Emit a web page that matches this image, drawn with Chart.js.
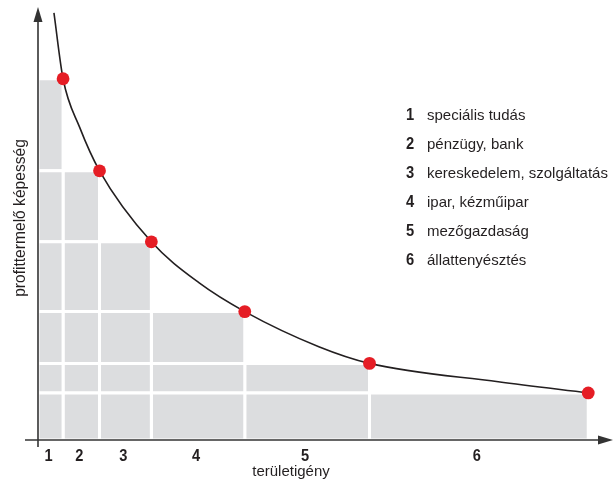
<!DOCTYPE html>
<html>
<head>
<meta charset="utf-8">
<script src="https://cdn.jsdelivr.net/npm/chart.js@4/dist/chart.umd.min.js"></script>
<style>
  html, body { margin: 0; padding: 0; background: #fff; }
  #wrap { position: relative; width: 614px; height: 483px; }
</style>
</head>
<body>
<div id="wrap"><canvas id="c"></canvas></div>
<script>
// Sectors, ordered by profit-making ability
const columnLabels = ['1', '2', '3', '4', '5', '6'];
const sectorNames = ['speciális tudás', 'pénzügy, bank', 'kereskedelem, szolgáltatás',
                     'ipar, kézműipar', 'mezőgazdaság', 'állattenyésztés'];
// Cumulative land requirement at the right edge of each sector's column
const landEdges = [4.4, 10.8, 19.9, 36.3, 58.2, 96.6];
// Profit-making ability of each sector
const profitLevels = [84.4, 62.9, 46.3, 30.0, 17.9, 11.0];
// Points along the smooth curve
const curveX = [2.8, 4.4, 7.3, 10.8, 19.9, 28.3, 36.3, 49.3, 58.2, 80.8, 96.6];
const curveY = [99.8, 84.4, 73.1, 62.9, 46.3, 36.7, 30.0, 21.8, 17.9, 13.6, 11.0];

const xTitle = 'területigény';
const yTitle = 'profittermelő képesség';

const INK = '#231f20';
const CELL = '#dcdddf';
const DOT = '#e51d25';
const FONT = '"Liberation Sans", Arial, sans-serif';

// Each column is split into bands at the levels of the sectors to its right
const cellSets = [];
for (let i = 0; i < landEdges.length; i++) {
  const x0 = i === 0 ? 0 : landEdges[i - 1];
  const x1 = landEdges[i];
  for (let j = profitLevels.length - 1; j >= i; j--) {
    const lo = j === profitLevels.length - 1 ? 0 : profitLevels[j + 1];
    const hi = profitLevels[j];
    cellSets.push({
      data: [{x: x0, y: lo}, {x: x0, y: hi}, {x: x1, y: hi}, {x: x1, y: lo}, {x: x0, y: lo}],
      fill: 'shape',
      backgroundColor: CELL,
      borderColor: '#ffffff',
      borderWidth: 3,
      pointRadius: 0,
      tension: 0,
      order: 3
    });
  }
}

const curveSet = {
  data: curveX.map((x, k) => ({x, y: curveY[k]})),
  borderColor: INK,
  borderWidth: 1.6,
  pointRadius: 0,
  fill: false,
  cubicInterpolationMode: 'monotone',
  order: 2
};

const dotSet = {
  data: landEdges.map((x, k) => ({x, y: profitLevels[k]})),
  showLine: false,
  pointRadius: 6.4,
  pointHoverRadius: 6.4,
  pointBackgroundColor: DOT,
  pointBorderWidth: 0,
  order: 1
};

function label(ctx, text, x, y, font, align, opts = {}) {
  ctx.save();
  ctx.translate(x, y);
  if (opts.angle) ctx.rotate(opts.angle);
  ctx.scale(opts.squeeze || 1, 1);
  ctx.font = font;
  ctx.textAlign = align;
  ctx.textBaseline = 'alphabetic';
  ctx.fillText(text, 0, 0);
  ctx.restore();
}

// Axes with arrows, column numbers, titles and the sector key
const decorations = {
  id: 'decorations',
  afterDraw(chart) {
    const {ctx, scales: {x, y}} = chart;
    const x0 = x.getPixelForValue(0);
    const y0 = y.getPixelForValue(0);
    ctx.save();
    ctx.strokeStyle = '#333';
    ctx.fillStyle = '#333';
    ctx.lineWidth = 1.6;
    // vertical axis
    ctx.beginPath();
    ctx.moveTo(x0, y0 + 7);
    ctx.lineTo(x0, 20);
    ctx.stroke();
    ctx.beginPath();
    ctx.moveTo(x0, 7);
    ctx.lineTo(x0 - 4.5, 22);
    ctx.lineTo(x0 + 4.5, 22);
    ctx.closePath();
    ctx.fill();
    // horizontal axis
    ctx.beginPath();
    ctx.moveTo(x0 - 13, y0);
    ctx.lineTo(600, y0);
    ctx.stroke();
    ctx.beginPath();
    ctx.moveTo(613, y0);
    ctx.lineTo(598, y0 - 4.5);
    ctx.lineTo(598, y0 + 4.5);
    ctx.closePath();
    ctx.fill();

    ctx.fillStyle = INK;
    // column numbers
    columnLabels.forEach((lab, i) => {
      const a = i === 0 ? 0 : landEdges[i - 1];
      const cx = x.getPixelForValue((a + landEdges[i]) / 2) - 2;
      label(ctx, lab, cx, y0 + 20.5, 'bold 17px ' + FONT, 'center', {squeeze: 0.86});
    });

    // axis titles
    label(ctx, xTitle, 291, 476, '15px ' + FONT, 'center');
    label(ctx, yTitle, 25, 218, '15.6px ' + FONT, 'center', {angle: -Math.PI / 2});

    // sector key
    sectorNames.forEach((name, i) => {
      const ly = 119.5 + 29.1 * i;
      label(ctx, columnLabels[i], 410, ly, 'bold 16px ' + FONT, 'center', {squeeze: 0.92});
      label(ctx, name, 427, ly, '15px ' + FONT, 'left');
    });
    ctx.restore();
  }
};

new Chart(document.getElementById('c'), {
  type: 'line',
  data: { datasets: [...cellSets, curveSet, dotSet] },
  options: {
    responsive: true,
    maintainAspectRatio: false,
    animation: false,
    layout: { padding: { left: 38, right: 4, top: 12, bottom: 43 } },
    plugins: { legend: { display: false }, tooltip: { enabled: false } },
    elements: { line: { borderCapStyle: 'butt', borderJoinStyle: 'miter' } },
    datasets: { line: { clip: false } },
    scales: {
      x: { type: 'linear', min: 0, max: 100, display: false },
      y: { type: 'linear', min: 0, max: 100, display: false }
    }
  },
  plugins: [decorations]
});
</script>
</body>
</html>
